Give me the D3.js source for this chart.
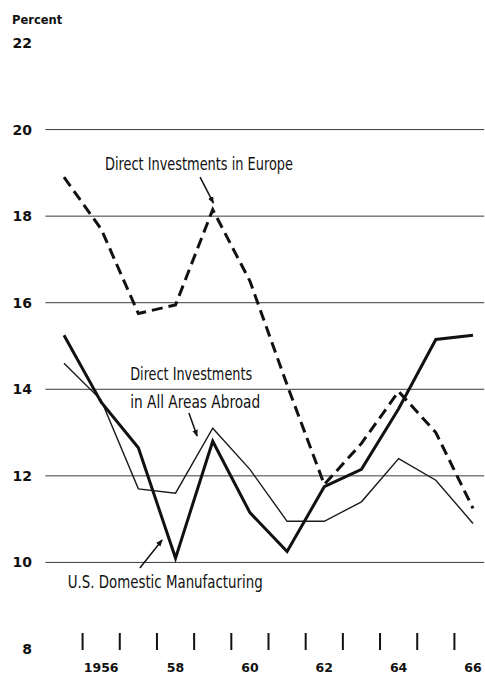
<!DOCTYPE html>
<html>
<head>
<meta charset="utf-8">
<script src="https://cdn.jsdelivr.net/npm/d3@7"></script>
<style>
	body { margin: 0; background: #fff; }
	#chart { width: 485px; height: 674px; }
	.ylab, .xlab, .unit { font-family: "DejaVu Sans", sans-serif; font-weight: bold; fill: #111; }
	.note { font-family: "Liberation Sans Narrow", "DejaVu Sans Condensed", "Liberation Sans", sans-serif; fill: #111; }
</style>
</head>
<body>
<div id="chart"></div>
<script>
// rates of return, percent, 1955-1966
var years = [1955, 1956, 1957, 1958, 1959, 1960, 1961, 1962, 1963, 1964, 1965, 1966];
var europe = [18.9, 17.7, 15.75, 15.95, 18.15, 16.5, 14.1, 11.8, 12.75, 13.95, 13.0, 11.25];
var allAreas = [14.6, 13.75, 11.7, 11.6, 13.1, 12.15, 10.95, 10.95, 11.4, 12.4, 11.9, 10.9];
var domestic = [15.25, 13.7, 12.65, 10.1, 12.8, 11.15, 10.25, 11.75, 12.15, 13.55, 15.15, 15.25];

var yTicks = [8, 10, 12, 14, 16, 18, 20, 22];
var gridValues = [10, 12, 14, 16, 18, 20];
var yearLabels = [[1956, "1956"], [1958, "58"], [1960, "60"], [1962, "62"], [1964, "64"], [1966, "66"]];
var yearTicks = [1955.5, 1956.5, 1957.5, 1958.5, 1959.5, 1960.5, 1961.5, 1962.5, 1963.5, 1964.5, 1965.5];

// annotation text + arrows, in data units (year, percent)
var notes = [
	{ lines: ["Direct Investments in Europe"], x: 1958.63, y: 19.06, anchor: "middle", widths: [188] },
	{ lines: ["Direct Investments", "in All Areas Abroad"], x: 1956.78, y: 14.21, anchor: "start", widths: [122, 130] },
	{ lines: ["U.S. Domestic Manufacturing"], x: 1955.1, y: 9.41, anchor: "start", widths: [195] }
];
var arrows = [
	[[1958.66, 18.9], [1959.02, 18.3]],
	[[1958.36, 13.45], [1958.58, 12.92]],
	[[1957.04, 9.87], [1957.64, 10.52]]
];

var width = 485, height = 674;
var x = d3.scaleLinear().domain([1955, 1966]).range([64, 473]);
var y = d3.scaleLinear().domain([8, 22]).range([649, 43]);

var svg = d3.select("#chart").append("svg").attr("width", width).attr("height", height);

svg.append("defs").append("marker")
	.attr("id", "head").attr("viewBox", "0 0 10 10")
	.attr("refX", 9).attr("refY", 5)
	.attr("markerWidth", 7).attr("markerHeight", 7)
	.attr("markerUnits", "userSpaceOnUse")
	.attr("orient", "auto")
	.append("path").attr("d", "M0,1 L10,5 L0,9 Z").attr("fill", "#111");

svg.append("text").attr("class", "unit").attr("x", 12).attr("y", 24)
	.style("font-size", "11.5px").text("Percent");

// gridlines
svg.selectAll(".grid").data(gridValues).enter().append("line")
	.attr("class", "grid")
	.attr("x1", x(1954.5)).attr("x2", x(1966.3))
	.attr("y1", function(d) { return y(d); })
	.attr("y2", function(d) { return y(d); })
	.attr("stroke", "#3a3a3a").attr("stroke-width", 1);

svg.selectAll(".ylab").data(yTicks).enter().append("text")
	.attr("class", "ylab")
	.attr("x", 32)
	.attr("y", function(d) { return y(d); })
	.attr("dy", "0.36em")
	.attr("text-anchor", "end")
	.style("font-size", "14px")
	.text(function(d) { return d; });

// year boundary ticks
svg.selectAll(".ytick").data(yearTicks).enter().append("line")
	.attr("class", "ytick")
	.attr("x1", function(d) { return x(d); })
	.attr("x2", function(d) { return x(d); })
	.attr("y1", 633).attr("y2", 650)
	.attr("stroke", "#111").attr("stroke-width", 2);

svg.selectAll(".xlab").data(yearLabels).enter().append("text")
	.attr("class", "xlab")
	.attr("x", function(d) { return x(d[0]); })
	.attr("y", 672)
	.attr("text-anchor", "middle")
	.style("font-size", "12.5px")
	.text(function(d) { return d[1]; });

var line = d3.line()
	.x(function(d, i) { return x(years[i]); })
	.y(function(d) { return y(d); });

svg.append("path").datum(allAreas).attr("d", line)
	.attr("fill", "none").attr("stroke", "#1a1a1a").attr("stroke-width", 1.4)
	.attr("stroke-linejoin", "miter");
svg.append("path").datum(europe).attr("d", line)
	.attr("fill", "none").attr("stroke", "#111").attr("stroke-width", 3)
	.attr("stroke-dasharray", "11,6").attr("stroke-linejoin", "miter");
svg.append("path").datum(domestic).attr("d", line)
	.attr("fill", "none").attr("stroke", "#111").attr("stroke-width", 3)
	.attr("stroke-linejoin", "miter");

svg.selectAll(".arrow").data(arrows).enter().append("line")
	.attr("class", "arrow")
	.attr("x1", function(d) { return x(d[0][0]); })
	.attr("y1", function(d) { return y(d[0][1]); })
	.attr("x2", function(d) { return x(d[1][0]); })
	.attr("y2", function(d) { return y(d[1][1]); })
	.attr("stroke", "#111").attr("stroke-width", 1.5)
	.attr("marker-end", "url(#head)");

notes.forEach(function(n) {
	n.lines.forEach(function(t, i) {
		svg.append("text").attr("class", "note")
			.attr("x", x(n.x))
			.attr("y", y(n.y) + i * 28)
			.attr("text-anchor", n.anchor)
			.attr("textLength", n.widths[i])
			.attr("lengthAdjust", "spacingAndGlyphs")
			.style("font-size", "17px")
			.text(t);
	});
});
</script>
</body>
</html>
